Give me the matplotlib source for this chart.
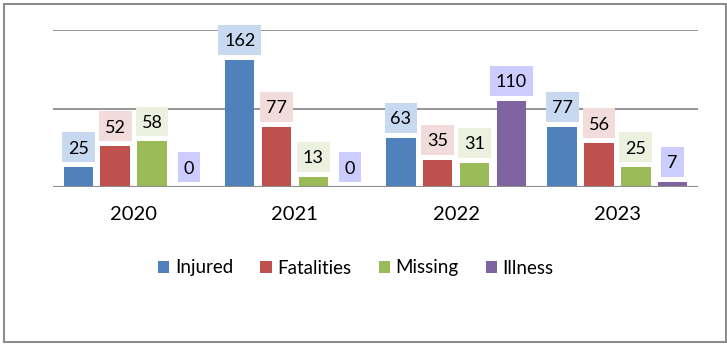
import numpy as np
import matplotlib
matplotlib.use("Agg")
import matplotlib.pyplot as plt
from matplotlib.patches import Rectangle
from matplotlib.path import Path

# ── data ───────────────────────────────────────────
years      = ["2020", "2021", "2022", "2023"]
series     = ["Injured", "Fatalities", "Missing", "Illness"]
injured    = [25, 162, 63, 77]
fatalities = [52, 77, 35, 56]
missing    = [58, 13, 31, 25]
illness    = [0, 0, 110, 7]

bar_colors = ["#4f81bd", "#c0504d", "#9bbb59", "#8064a2"]
box_colors = ["#c6d9f1", "#f2dcdb", "#ebf1de", "#ccccff"]
# ───────────────────────────────────────────────────

plt.rcParams["font.family"] = ["Lato", "DejaVu Sans"]

LBL_FS = 13
PADX, PAD_TOP, PAD_BOT = 0.33, 0.47, 0.30


def tall_box(x0, y0, w, h, mutation_size):
    # label box: more vertical padding, digits centred
    px = PADX * mutation_size
    x0, x1 = x0 - px, x0 + w + px
    y0, y1 = y0 - PAD_BOT * mutation_size, y0 + h + PAD_TOP * mutation_size
    return Path([(x0, y0), (x1, y0), (x1, y1), (x0, y1), (x0, y0)], closed=True)


W, H = 727, 347
fig = plt.figure(figsize=(W / 100, H / 100), dpi=100)

# outer frame
fig.patches.append(Rectangle((4 / W, 5 / H), 722 / W, 338 / H, transform=fig.transFigure,
                             fill=False, edgecolor="#8c8c8c", lw=1.5))

ax = fig.add_axes([53 / W, (H - 187) / H, (698 - 53) / W, (187 - 30) / H])

values = [injured, fatalities, missing, illness]
x = np.arange(len(years))
pitch, width = 0.228, 0.183

for k, (name, vals) in enumerate(zip(series, values)):
    pos = x + (k - 1.5) * pitch
    ax.bar(pos, vals, width=width, color=bar_colors[k], label=name, zorder=3)
    for px, v in zip(pos, vals):
        ax.annotate(str(v), (px, v), xytext=(0, PAD_BOT * LBL_FS + 3.6), textcoords="offset points",
                    ha="center", va="bottom", fontsize=LBL_FS, zorder=4,
                    bbox=dict(boxstyle=tall_box, fc=box_colors[k], ec="none"))

ax.set_xlim(-0.5, 3.5)
ax.set_ylim(0, 200)
ax.set_yticks([])
for y in (100, 200):
    ax.axhline(y, color="#8c8c8c", lw=1.3, zorder=1)
ax.axhline(0, color="#8c8c8c", lw=1.5, zorder=5)
for s in ax.spines.values():
    s.set_visible(False)
ax.set_xticks(x)
ax.set_xticklabels(years, fontsize=14.5)
ax.tick_params(axis="x", length=0, pad=14)
ax.set_facecolor("none")

fig.legend(loc="center", bbox_to_anchor=(356 / W, (H - 268) / H), ncol=4, frameon=False,
           fontsize=13.5, handlelength=0.6, handleheight=0.6, handletextpad=0.3,
           columnspacing=1.45)

fig.savefig("out.png", dpi=100)
